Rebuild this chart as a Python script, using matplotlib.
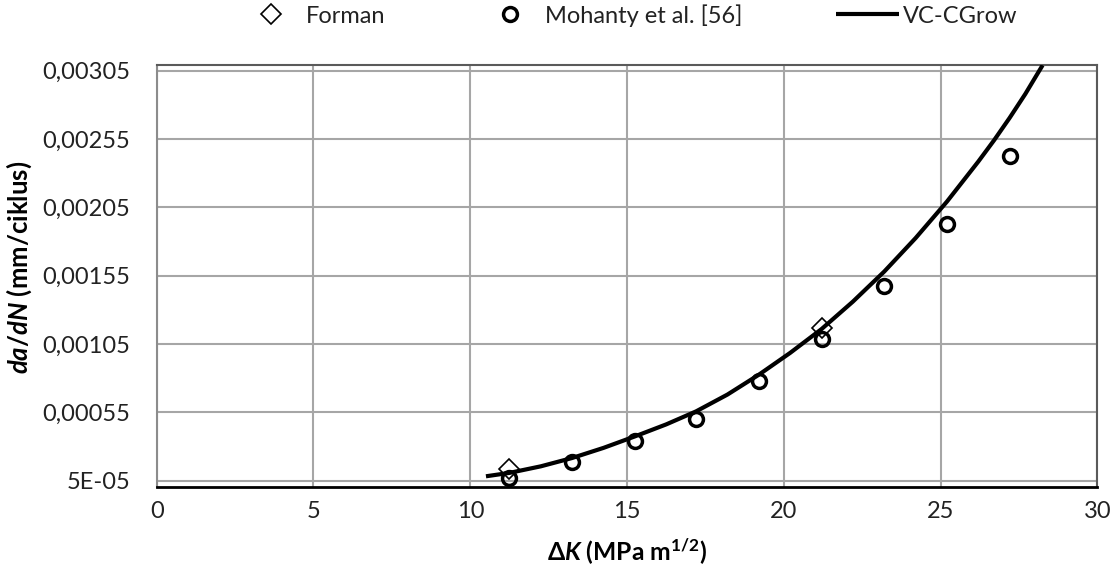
import numpy as np
import matplotlib.pyplot as plt

plt.rcParams['font.family'] = ['Lato', 'DejaVu Sans']
plt.rcParams['mathtext.fontset'] = 'custom'
plt.rcParams['mathtext.rm'] = 'Lato:bold'
plt.rcParams['mathtext.it'] = 'Lato:italic:bold'
plt.rcParams['mathtext.bf'] = 'Lato:bold'

# Forman points
forman_x = [11.25, 21.2]
forman_y = [0.000136, 0.001167]

# Mohanty et al. [56] experimental data
mohanty_x = [11.25, 13.25, 15.25, 17.2, 19.2, 21.2, 23.2, 25.2, 27.2]
mohanty_y = [0.000070, 0.000187, 0.000337, 0.000503, 0.000776,
             0.001088, 0.001478, 0.001929, 0.002426]

# VC-CGrow curve
vc_x = [10.5, 11.25, 12.25, 13.25, 14.25, 15.25, 16.25, 17.2, 18.2, 19.2,
        20.2, 21.2, 22.2, 23.2, 24.2, 25.2, 26.2, 26.7, 27.2, 27.7, 28.25]
vc_y = [0.000082, 0.000107, 0.000155, 0.000216, 0.000290, 0.000374,
        0.000462, 0.000557, 0.000680, 0.000825, 0.000985, 0.001159,
        0.001360, 0.001580, 0.001825, 0.002092, 0.002385, 0.002540,
        0.002705, 0.002880, 0.003090]

y_ticks = [0.00005, 0.00055, 0.00105, 0.00155, 0.00205, 0.00255, 0.00305]
y_labels = ['5E-05', '0,00055', '0,00105', '0,00155', '0,00205', '0,00255', '0,00305']

fig = plt.figure(figsize=(11.16, 5.69), dpi=100)
ax = fig.add_axes([0.1404, 0.1447, 0.8430, 0.7411])

ax.plot(vc_x, vc_y, color='black', lw=3.0, solid_capstyle='butt', label='VC-CGrow', zorder=3)
ax.plot(mohanty_x, mohanty_y, 'o', ms=10, mfc='none', mec='black', mew=2.5,
        label='Mohanty et al. [56]', zorder=4)
ax.plot(forman_x, forman_y, 'D', ms=10.5, mfc='none', mec='black', mew=1.2,
        label='Forman', zorder=4)

ax.set_xlim(0, 30)
ax.set_ylim(0.0000061, 0.0030917)
ax.set_xticks(range(0, 31, 5))
ax.set_yticks(y_ticks)
ax.set_yticklabels(y_labels)
ax.tick_params(labelsize=17, length=0, colors='#222222')
ax.tick_params(axis='y', pad=19)
ax.tick_params(axis='x', pad=10)
ax.grid(True, color='#a6a6a6', lw=1.5)
ax.set_axisbelow(True)

for s in ['top', 'right']:
    ax.spines[s].set_color('#5a5a5a')
    ax.spines[s].set_linewidth(1.5)
ax.spines['left'].set_color('#8c8c8c')
ax.spines['left'].set_linewidth(1.5)
ax.spines['bottom'].set_color('black')
ax.spines['bottom'].set_linewidth(2)

ax.set_ylabel(r'$da/dN$ (mm/ciklus)', fontsize=18.5, fontweight='bold')
ax.yaxis.set_label_coords(-0.13, 0.519)
ax.set_xlabel(r'$\Delta K$ (MPa m$^{1/2}$)', fontsize=17.7, fontweight='bold', labelpad=11)

handles, labels = ax.get_legend_handles_labels()
order = [2, 1, 0]
leg = fig.legend([handles[i] for i in order], [labels[i] for i in order],
                 loc='center', bbox_to_anchor=(0.563, 0.973), ncol=3, frameon=False,
                 fontsize=17, handlelength=2.67, handletextpad=0.15, columnspacing=3.95)
for t in leg.get_texts():
    t.set_color('#222222')

fig.savefig('out.png', dpi=100)
